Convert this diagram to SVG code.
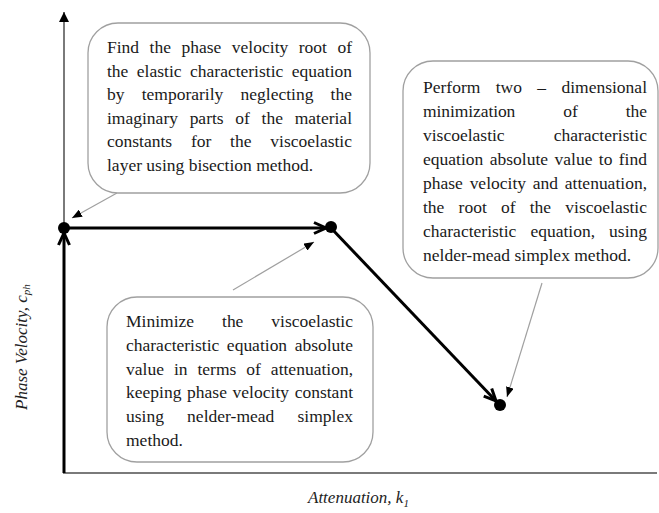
<svg xmlns="http://www.w3.org/2000/svg" width="659" height="513" viewBox="0 0 659 513">
<style>
.box{fill:#fff;stroke:#a0a0a0;stroke-width:1.3}
.t{font-family:"Liberation Serif","Times New Roman",serif;font-size:17.5px;fill:#1a1a1a}
.ax{font-family:"Liberation Serif","Times New Roman",serif;font-style:italic;fill:#222}
.axis{stroke:#7a7a7a;stroke-width:2;fill:none}
.thick{stroke:#000;stroke-width:3;fill:none}
.ptr{stroke:#a0a0a0;stroke-width:1.2;fill:none}
.dot{fill:#000}
</style>
<defs>
<marker id="chev" markerUnits="userSpaceOnUse" viewBox="0 0 16 14" refX="14" refY="7" markerWidth="16" markerHeight="14" orient="auto">
<path d="M2,1.5 L14,7 L2,12.5" fill="none" stroke="#000" stroke-width="3"/>
</marker>
<marker id="tri" markerUnits="userSpaceOnUse" viewBox="0 0 10 8" refX="10" refY="4" markerWidth="10" markerHeight="8" orient="auto">
<path d="M0,0 L10,4 L0,8 z" fill="#000"/>
</marker>
<marker id="axhead" markerUnits="userSpaceOnUse" viewBox="0 0 10 10" refX="10" refY="5" markerWidth="10" markerHeight="10" orient="auto">
<path d="M0,0 L10,5 L0,10 z" fill="#000"/>
</marker>
</defs>

<g id="axes">
<line class="axis" x1="64" y1="473" x2="64" y2="12" marker-end="url(#axhead)"/>
<line class="axis" x1="63" y1="473" x2="657" y2="473"/>
<text id="xlabel" class="ax" x="308" y="503" font-size="17">Attenuation, k<tspan font-size="11" dy="4">1</tspan></text>
<text id="ylabel" class="ax" font-size="17" transform="translate(27,410) rotate(-90)">Phase Velocity, c<tspan font-size="11" dy="3">ph</tspan></text>
</g>

<g id="connectors">
<line class="thick" x1="64" y1="473" x2="64" y2="233" marker-end="url(#chev)"/>
<line class="thick" x1="64" y1="228" x2="326" y2="228" marker-end="url(#chev)"/>
<line class="thick" x1="331" y1="228" x2="496" y2="401" marker-end="url(#chev)"/>
<line class="ptr" x1="117" y1="193" x2="72" y2="218" marker-end="url(#tri)"/>
<line class="ptr" x1="233" y1="290" x2="314" y2="242" marker-end="url(#tri)"/>
<line class="ptr" x1="542" y1="283" x2="507" y2="397" marker-end="url(#tri)"/>
</g>

<g id="points">
<circle class="dot" cx="64" cy="228" r="6"/>
<circle class="dot" cx="331" cy="227" r="6"/>
<circle class="dot" cx="500" cy="405" r="6"/>
</g>

<g id="box1">
<rect class="box" x="88" y="23" width="282" height="170" rx="30"/>
<text class="t" x="107" y="53" style="word-spacing:6.1px" textLength="245" lengthAdjust="spacing">Find the phase velocity root of</text>
<text class="t" x="107" y="76.5" style="word-spacing:4.1px" textLength="245" lengthAdjust="spacing">the elastic characteristic equation</text>
<text class="t" x="107" y="100" style="word-spacing:12.8px" textLength="245" lengthAdjust="spacing">by temporarily neglecting the</text>
<text class="t" x="107" y="123.5" style="word-spacing:7.3px" textLength="245" lengthAdjust="spacing">imaginary parts of the material</text>
<text class="t" x="107" y="147" style="word-spacing:14.4px" textLength="245" lengthAdjust="spacing">constants for the viscoelastic</text>
<text class="t" x="107" y="170.5">layer using bisection method.</text>
</g>

<g id="box2">
<rect class="box" x="403" y="61" width="255" height="217" rx="30"/>
<text class="t" x="423" y="93" style="word-spacing:11px" textLength="224" lengthAdjust="spacing">Perform two – dimensional</text>
<text class="t" x="423" y="117" style="word-spacing:43.8px" textLength="224" lengthAdjust="spacing">minimization of the</text>
<text class="t" x="423" y="141" style="word-spacing:44.7px" textLength="224" lengthAdjust="spacing">viscoelastic characteristic</text>
<text class="t" x="423" y="165" style="word-spacing:2px" textLength="224" lengthAdjust="spacing">equation absolute value to find</text>
<text class="t" x="423" y="189" style="word-spacing:2.4px" textLength="224" lengthAdjust="spacing">phase velocity and attenuation,</text>
<text class="t" x="423" y="213" style="word-spacing:9.8px" textLength="224" lengthAdjust="spacing">the root of the viscoelastic</text>
<text class="t" x="423" y="237" style="word-spacing:9.7px" textLength="224" lengthAdjust="spacing">characteristic equation, using</text>
<text class="t" x="423" y="261">nelder-mead simplex method.</text>
</g>

<g id="box3">
<rect class="box" x="107" y="297" width="266" height="165" rx="30"/>
<text class="t" x="126" y="327" style="word-spacing:23.6px" textLength="227" lengthAdjust="spacing">Minimize the viscoelastic</text>
<text class="t" x="126" y="351" style="word-spacing:3.2px" textLength="227" lengthAdjust="spacing">characteristic equation absolute</text>
<text class="t" x="126" y="374.5" style="word-spacing:5.6px" textLength="227" lengthAdjust="spacing">value in terms of attenuation,</text>
<text class="t" x="126" y="398" style="word-spacing:1.3px" textLength="227" lengthAdjust="spacing">keeping phase velocity constant</text>
<text class="t" x="126" y="422" style="word-spacing:18.7px" textLength="227" lengthAdjust="spacing">using nelder-mead simplex</text>
<text class="t" x="126" y="445.5">method.</text>
</g>
</svg>
